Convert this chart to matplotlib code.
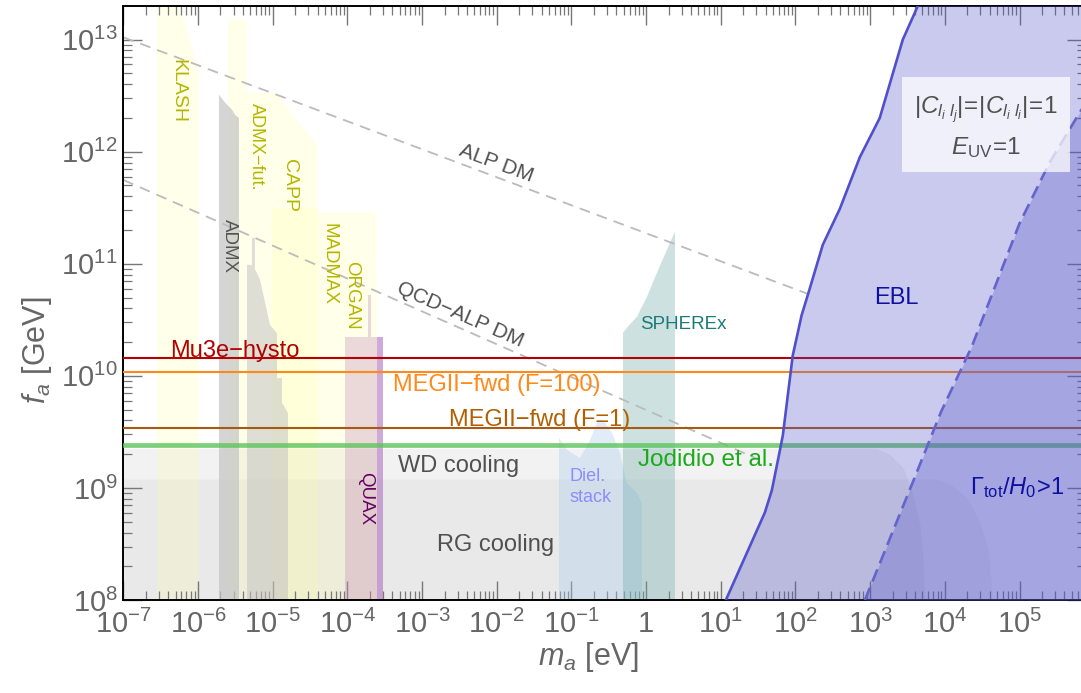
import numpy as np
import matplotlib
matplotlib.use('Agg')
import matplotlib.pyplot as plt
from matplotlib.ticker import FixedLocator, LogLocator, NullFormatter

plt.rcParams['font.family'] = ['Liberation Sans', 'DejaVu Sans']
plt.rcParams['mathtext.fontset'] = 'custom'
plt.rcParams['mathtext.rm'] = 'Liberation Sans'
plt.rcParams['mathtext.it'] = 'Liberation Sans:italic'
plt.rcParams['mathtext.bf'] = 'Liberation Sans:bold'

# axis range, log10 of m_a [eV] and f_a [GeV]
logm_lim = (-7, 5.89)
logf_lim = (8, 13.3)

# horizontal reaches (f_a in GeV)
mu3e_f = 1.44e10
meg100_f = 1.09e10
meg1_f = 3.45e9
jodidio_f = 2.42e9

# dark matter lines, endpoints
alp_m = [1e-7, 145]
alp_f = [1.05e13, 5.4e10]
qcd_m = [1e-7, 33]
qcd_f = [5.6e11, 1.78e9]

# stellar cooling (log10 m, log10 f)
wd_logm = [-7, 2.86, 3.09, 3.26, 3.44, 3.57, 3.67, 3.71, 3.73]
wd_logf = [9.35, 9.35, 9.35, 9.30, 9.18, 8.95, 8.66, 8.35, 8.0]
rg_logm = [-7, 3.9, 4.07, 4.29, 4.46, 4.58, 4.64]
rg_logf = [9.08, 9.08, 9.03, 8.92, 8.71, 8.45, 8.0]

# EBL and lifetime boundaries
ebl_logm = [1.068, 1.59, 1.684, 1.79, 1.831, 1.898, 1.963, 2.082, 2.192, 2.366, 2.594, 2.861, 3.128, 3.437, 3.665]
ebl_logf = [8.0, 8.78, 8.98, 9.33, 9.47, 9.83, 10.18, 10.54, 10.78, 11.17, 11.49, 11.95, 12.30, 13.00, 13.34]
gam_logm = [2.93, 3.57, 3.95, 4.36, 5.0, 5.4, 5.77, 5.9]
gam_logf = [8.0, 9.05, 9.68, 10.26, 11.36, 11.9, 12.31, 12.45]

# haloscopes (polygons in log10)
klash_logm = [-6.547, -6.547, -6.28, -5.987, -5.987]
klash_logf = [8, 13.4, 13.4, 12.71, 8]
admxfut_logm = [-5.598, -5.598, -5.344, -5.344, -4.969, -4.394, -4.394]
admxfut_logf = [8, 13.18, 13.18, 12.53, 12.53, 12.05, 8]
capp_logm = [-5.01, -5.01, -4.394, -4.394]
capp_logf = [8, 11.5, 11.5, 8]
madmax_logm = [-4.394, -4.394, -4.02, -4.02]
madmax_logf = [8, 11.46, 11.46, 8]
organ_logm = [-4.02, -4.02, -3.605, -3.605]
organ_logf = [8, 11.46, 11.46, 8]
admx_logm = [-5.719, -5.719, -5.664, -5.612, -5.545, -5.505, -5.451, -5.451]
admx_logf = [8, 12.51, 12.46, 12.42, 12.375, 12.33, 12.30, 8]
admx2_logm = [-5.344, -5.344, -5.277, -5.277, -5.237, -5.237, -5.17, -5.036, -4.942, -4.942,
              -4.875, -4.875, -4.795, -4.795]
admx2_logf = [8, 10.99, 10.99, 11.23, 11.23, 10.95, 10.86, 10.455, 10.38, 9.98, 9.98, 9.76, 9.67, 8]
quax_logm = [-4.033, -4.033, -3.605, -3.605]
quax_logf = [8, 10.35, 10.35, 8]
quax2_logm = [-3.605, -3.605, -3.525, -3.525]
quax2_logf = [8, 10.35, 10.35, 8]
quax3_logm = [-3.724, -3.724, -3.684, -3.684]
quax3_logf = [10.35, 10.72, 10.72, 10.35]
diel_logm = [-1.166, -1.166, -1.058, -0.884, -0.750, -0.643, -0.576, -0.456, -0.351, -0.257,
             -0.123, -0.056, -0.056]
diel_logf = [8, 9.446, 9.339, 9.268, 9.429, 9.607, 9.607, 9.491, 9.3125, 9.045, 8.955, 8.866, 8]
spherex_logm = [-0.31, -0.31, -0.257, -0.123, 0.011, 0.145, 0.279, 0.386, 0.386]
spherex_logf = [8, 10.384, 10.429, 10.527, 10.705, 10.92, 11.125, 11.286, 8]

x_exps = list(range(-7, 6))
y_exps = list(range(8, 14))


def pw(a):
    return 10 ** np.asarray(a, dtype=float)


def poly(ax, lm, lf, **kw):
    ax.fill(pw(lm), pw(lf), lw=0, **kw)


fig = plt.figure(figsize=(10.81, 6.93), dpi=100)
ax = fig.add_axes([123.3 / 1081, 93 / 693, (1086 - 123.3) / 1081, 594 / 693])
ax.set_xscale('log')
ax.set_yscale('log')
m_lo, m_hi = 10 ** logm_lim[0], 10 ** logm_lim[1]
f_lo, f_hi = 10 ** logf_lim[0], 10 ** logf_lim[1]
ax.set_xlim(m_lo, m_hi)
ax.set_ylim(f_lo, f_hi)

# cooling
ax.fill_between(pw(wd_logm), f_lo, pw(wd_logf), color='0.5', alpha=0.1, lw=0, zorder=1)
ax.fill_between(pw(rg_logm), f_lo, pw(rg_logf), color='0.5', alpha=0.07, lw=0, zorder=1)

# haloscopes
yel = dict(color='#ffff99', alpha=0.2, zorder=1.5)
for lm, lf in [(klash_logm, klash_logf), (admxfut_logm, admxfut_logf), (capp_logm, capp_logf),
               (madmax_logm, madmax_logf), (organ_logm, organ_logf)]:
    poly(ax, lm, lf, **yel)
poly(ax, admx_logm, admx_logf, color='#c4c4c4', alpha=0.7, zorder=2)
poly(ax, admx2_logm, admx2_logf, color='#c4c4c4', alpha=0.55, zorder=2)
poly(ax, quax_logm, quax_logf, color='#c890b8', alpha=0.35, zorder=2)
poly(ax, quax2_logm, quax2_logf, color='#b070c0', alpha=0.6, zorder=2)
poly(ax, quax3_logm, quax3_logf, color='#c890b8', alpha=0.35, zorder=2)
poly(ax, diel_logm, diel_logf, color='#a8cdf0', alpha=0.35, zorder=2)
poly(ax, spherex_logm, spherex_logf, color='#70aaaa', alpha=0.35, zorder=2)

# DM lines
ax.plot(alp_m, alp_f, color='#bbbbbb', lw=1.3, dashes=(6, 4), zorder=2.5)
ax.plot(qcd_m, qcd_f, color='#bbbbbb', lw=1.3, dashes=(6, 4), zorder=2.5)

# reach lines
ax.axhline(jodidio_f, color='#5cc45c', lw=3.4, alpha=0.8, zorder=3)
ax.axhline(mu3e_f, color='#b30000', lw=1.5, zorder=3)
ax.axhline(meg100_f, color='#ff8a1a', lw=1.5, zorder=3)
ax.axhline(meg1_f, color='#a85a14', lw=1.5, zorder=3)

# EBL + lifetime
ax.fill_betweenx(pw(ebl_logf), pw(ebl_logm), m_hi, color='#5050c8', alpha=0.3, lw=0, zorder=4)
ax.fill_betweenx(pw(gam_logf), pw(gam_logm), m_hi, color='#5a5ac8', alpha=0.33, lw=0, zorder=4)
ax.plot(pw(ebl_logm), pw(ebl_logf), color='#5050cc', lw=1.9, zorder=4.5)
ax.plot(pw(gam_logm), pw(gam_logf), color='#6464cc', lw=1.9, dashes=(5, 2.5), zorder=4.5)

# labels
olive = '#b5b500'
rot = dict(rotation=-90, ha='center', va='center', zorder=6)
ax.text(5.4e-7, 3.5e12, 'KLASH', color=olive, fontsize=14, **rot)
ax.text(6.0e-6, 1.1e12, 'ADMX\u2212fut.', color=olive, fontsize=13, **rot)
ax.text(1.7e-5, 5.0e11, 'CAPP', color=olive, fontsize=14, **rot)
ax.text(5.7e-5, 1.0e11, 'MADMAX', color=olive, fontsize=13.5, **rot)
ax.text(1.15e-4, 5.2e10, 'ORGAN', color=olive, fontsize=13.5, **rot)
ax.text(2.6e-6, 1.45e11, 'ADMX', color='#555555', fontsize=13.5, **rot)
ax.text(1.74e-4, 8.1e8, 'QUAX', color='#660066', fontsize=13.5, **rot)

ax.text(4.2e-7, 1.47e10, 'Mu3e\u2212hysto', color='#b30000', fontsize=17, va='baseline', zorder=6)
ax.text(4.1e-4, 8.3e9, 'MEGII\u2212fwd (F=100)', color='#ff8a1a', fontsize=17, va='center', zorder=6)
ax.text(2.3e-3, 4.05e9, 'MEGII\u2212fwd (F=1)', color='#b35f00', fontsize=17, va='center', zorder=6)
ax.text(0.78, 1.78e9, 'Jodidio et al.', color='#1aaa1a', fontsize=17.5, va='center', zorder=6)
ax.text(4.7e-4, 1.57e9, 'WD cooling', color='#505050', fontsize=17, va='center', zorder=6)
ax.text(1.6e-3, 3.1e8, 'RG cooling', color='#505050', fontsize=17, va='center', zorder=6)
ax.text(0.093, 1.02e9, 'Diel.\nstack', color='#8c8cff', fontsize=13, va='center', ha='left',
        linespacing=1.3, zorder=6)
ax.text(0.83, 2.85e10, 'SPHEREx', color='#1a7a7a', fontsize=13.5, va='center', zorder=6)
ax.text(2275, 5.0e10, 'EBL', color='#1010a0', fontsize=17, ha='center', va='center', zorder=6)
ax.text(2.2e4, 1.0e9, r'$\Gamma_{\rm tot}/H_0\!>\!1$', color='#1010a0', fontsize=17,
        ha='left', va='center', zorder=6)
ax.text(9.8e-3, 7.9e11, 'ALP DM', color='#505050', fontsize=15, rotation=-20.4,
        ha='center', va='center', rotation_mode='anchor', zorder=6)
ax.text(3.2e-3, 3.5e10, 'QCD\u2212ALP DM', color='#505050', fontsize=15, rotation=-23.7,
        ha='center', va='center', rotation_mode='anchor', zorder=6)

ax.text(3.6e4, 1.65e12, '$|C_{l_i\\,\\,l_j}|\\!=\\!|C_{l_i\\,\\,l_i}|\\!=\\!1$\n$E_{\\rm UV}\\!=\\!1$',
        color='#505050', fontsize=17.5, ha='center', va='center', multialignment='center',
        linespacing=1.45, zorder=7,
        bbox=dict(boxstyle='square,pad=0.5', facecolor='white', edgecolor='none', alpha=0.72))

# axes styling
ax.xaxis.set_major_locator(FixedLocator([10.0 ** e for e in x_exps]))
ax.set_xticklabels(['1' if e == 0 else r'$10^{%d}$' % e for e in x_exps])
ax.yaxis.set_major_locator(FixedLocator([10.0 ** e for e in y_exps]))
ax.set_yticklabels([r'$10^{%d}$' % e for e in y_exps])
ax.xaxis.set_minor_locator(LogLocator(base=10, subs=np.arange(2, 10), numticks=40))
ax.yaxis.set_minor_locator(LogLocator(base=10, subs=np.arange(2, 10), numticks=40))
ax.xaxis.set_minor_formatter(NullFormatter())
ax.yaxis.set_minor_formatter(NullFormatter())
ax.tick_params(which='both', direction='in', top=True, right=True, color='#777777',
               labelcolor='#666666', labelsize=21)
ax.tick_params(which='major', length=14, width=1.0)
ax.tick_params(axis='x', which='major', pad=7)
ax.tick_params(axis='y', which='major', pad=4)
ax.tick_params(which='minor', length=6.5, width=0.9)
for s in ['left', 'bottom', 'top']:
    ax.spines[s].set_linewidth(1.4)
    ax.spines[s].set_color('black')
ax.spines['right'].set_color('#777777')

ax.text(0.4827, -0.0673, r'$m_a$ [eV]', transform=ax.transAxes, ha='center', va='top',
        fontsize=22, color='#666666')
ax.text(-0.0896, 0.421, r'$f_a$ [GeV]', transform=ax.transAxes, ha='center', va='center',
        rotation=90, fontsize=22, color='#666666')

fig.savefig('out.png', dpi=100)
